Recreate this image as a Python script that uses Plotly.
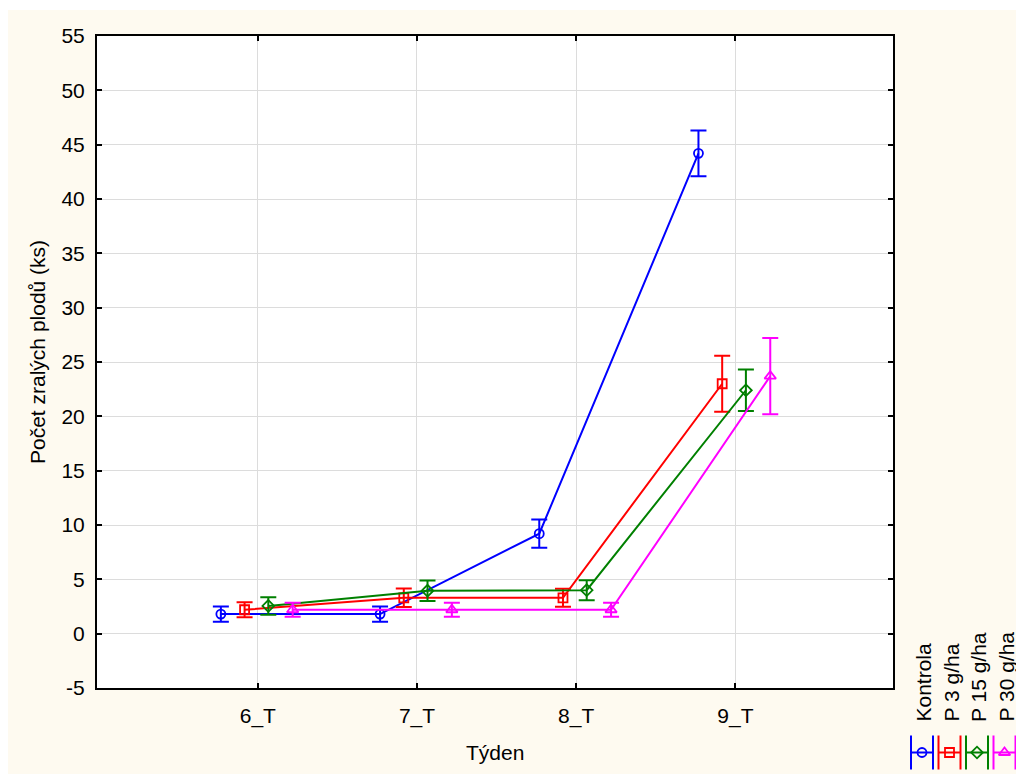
import plotly.graph_objects as go

# ---------------- data ----------------
weeks = ["6_T", "7_T", "8_T", "9_T"]
series_names = ["Kontrola", "P 3 g/ha", "P 15 g/ha", "P 30 g/ha"]

kontrola = [1.8, 1.8, 9.2, 44.2]
kontrola_err = [0.7, 0.7, 1.3, 2.1]
p3 = [2.2, 3.3, 3.3, 23.0]
p3_err = [0.7, 0.85, 0.83, 2.57]
p15 = [2.55, 3.95, 4.0, 22.4]
p15_err = [0.8, 0.95, 0.92, 1.9]
p30 = [2.2, 2.2, 2.2, 23.7]
p30_err = [0.65, 0.65, 0.65, 3.5]

y_ticks = list(range(-5, 56, 5))

# ---------------- style ----------------
OFF = 8  # page offset of the figure (body margin)
W, H = 1024 - OFF, 774 - OFF
FONT = "Liberation Sans, Arial, sans-serif"
FS = 21
CREAM = "#fefaf0"
colors = ["#0000ff", "#ff0000", "#008000", "#ff00ff"]
symbols = ["circle-open", "square-open", "diamond-open", "triangle-up-open"]
msizes = [9, 9, 9, 10]
offsets = [-0.232, -0.083, 0.066, 0.219]

values = [kontrola, p3, p15, p30]
errors = [kontrola_err, p3_err, p15_err, p30_err]


def fx(x):  # page pixel x -> paper fraction
    return (x - OFF) / W


def fy(y):  # page pixel y -> paper fraction
    return 1 - (y - OFF) / H


# plot area in page pixels
PX0, PX1, PY0, PY1 = 97, 893, 36, 688

fig = go.Figure()

for name, vals, errs, col, sym, ms, off in zip(series_names, values, errors, colors, symbols, msizes, offsets):
    fig.add_trace(go.Scatter(
        x=[i + 1 + off for i in range(len(weeks))],
        y=vals,
        mode="lines+markers",
        name=name,
        line=dict(color=col, width=2),
        marker=dict(symbol=sym, size=ms, color=col, line=dict(width=1.8, color=col)),
        error_y=dict(type="data", array=errs, visible=True, color=col, thickness=2, width=8),
        showlegend=False,
        xaxis="x", yaxis="y",
    ))

# ---------------- custom legend (page-pixel overlay axes) ----------------
LX0, LSTEP, LY = 922, 27.5, 752.5
for k, (name, col, sym, ms) in enumerate(zip(series_names, colors, symbols, msizes)):
    cx = LX0 + k * LSTEP
    fig.add_trace(go.Scatter(
        x=[cx], y=[LY], mode="markers",
        marker=dict(symbol=sym, size=ms, color=col, line=dict(width=1.8, color=col)),
        error_x=dict(type="data", array=[11], visible=True, color=col, thickness=2, width=17),
        showlegend=False, hoverinfo="skip", cliponaxis=False,
        xaxis="x2", yaxis="y2",
    ))

annotations = []
for k, name in enumerate(series_names):
    cx = LX0 + 1 + k * LSTEP
    annotations.append(dict(
        text=name, textangle=-90, showarrow=False,
        xref="paper", yref="paper", x=fx(cx), y=fy(724),
        xanchor="center", yanchor="bottom",
        font=dict(family=FONT, size=FS, color="black"),
    ))

annotations.append(dict(
    text="Týden", showarrow=False, xref="paper", yref="paper",
    x=fx(495), y=fy(752), xanchor="center", yanchor="middle",
    font=dict(family=FONT, size=FS, color="black"),
))
annotations.append(dict(
    text="Počet zralých plodů (ks)", textangle=-90, showarrow=False,
    xref="paper", yref="paper", x=fx(37), y=fy(352),
    xanchor="center", yanchor="middle",
    font=dict(family=FONT, size=FS, color="black"),
))

shapes = [
    # white plot area
    dict(type="rect", xref="x domain", yref="y domain", x0=0, x1=1, y0=0, y1=1,
         fillcolor="white", line=dict(width=0), layer="below"),
    # thin white strip at top (page y 8..10)
    dict(type="rect", xref="paper", yref="paper", x0=0, x1=1, y0=fy(10), y1=1,
         fillcolor="white", line=dict(width=0), layer="below"),
]

axis_common = dict(
    showline=True, linecolor="black", linewidth=2, mirror="ticks",
    ticks="inside", ticklen=5, tickwidth=2, tickcolor="black",
    showgrid=True, gridcolor="#dcdcdc", gridwidth=1, zeroline=False,
    tickfont=dict(family=FONT, size=FS, color="black"),
    automargin=False,
)

fig.update_layout(
    width=W, height=H, autosize=False,
    margin=dict(l=0, r=0, t=0, b=0, pad=0, autoexpand=False),
    paper_bgcolor=CREAM, plot_bgcolor="rgba(0,0,0,0)",
    font=dict(family=FONT, size=FS, color="black"),
    xaxis=dict(
        domain=[fx(PX0), fx(PX1)], range=[-0.01, 4.99],
        tickmode="array", tickvals=[i + 1 for i in range(len(weeks))], ticktext=weeks,
        anchor="y", ticklabelstandoff=8, **axis_common,
    ),
    yaxis=dict(
        domain=[fy(PY1), fy(PY0)], range=[-5, 55],
        tickmode="array", tickvals=y_ticks, ticktext=[str(v) for v in y_ticks],
        anchor="x", ticklabelstandoff=6, **axis_common,
    ),
    xaxis2=dict(domain=[fx(880), 1], range=[880, 1024], visible=False, anchor="y2",
                fixedrange=True, automargin=False),
    yaxis2=dict(domain=[0, fy(620)], range=[774, 620], visible=False, anchor="x2",
                fixedrange=True, automargin=False),
    annotations=annotations,
    shapes=shapes,
    showlegend=False,
)

fig.write_html("out.html")
